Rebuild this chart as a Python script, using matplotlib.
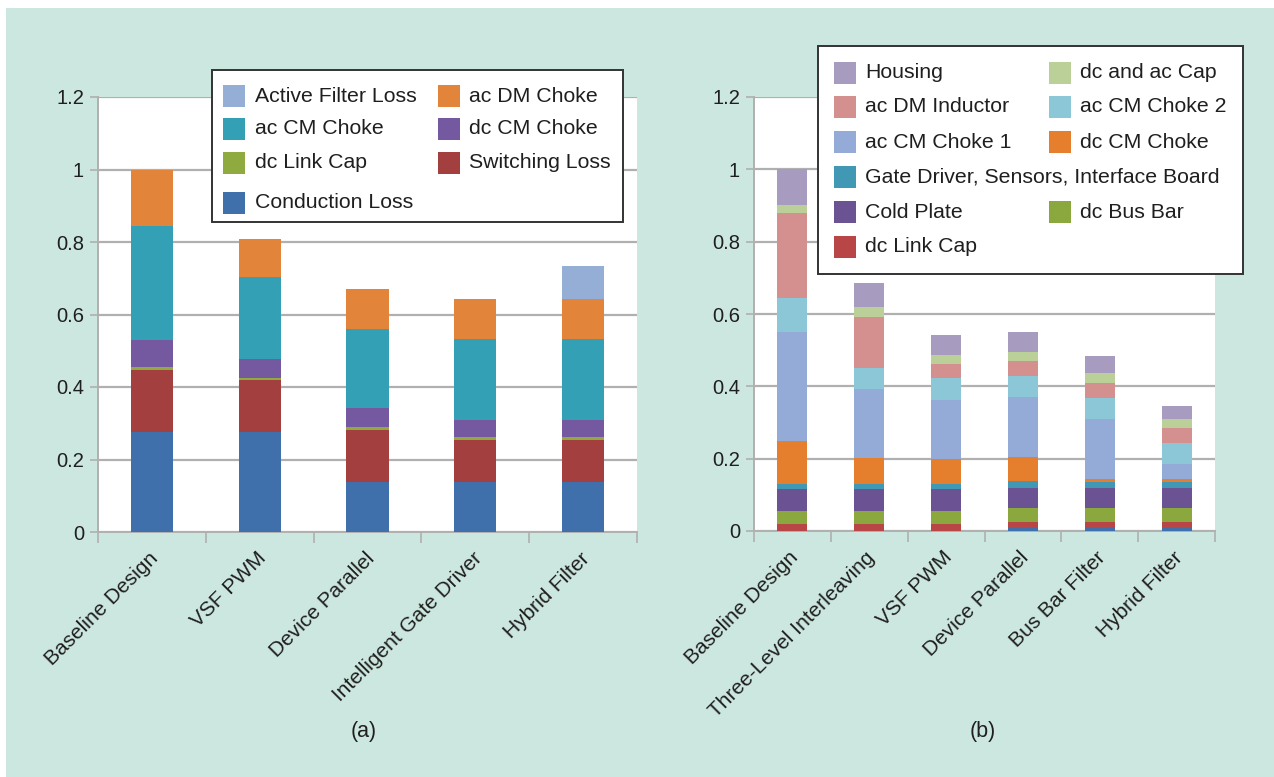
import matplotlib
import matplotlib.pyplot as plt
import numpy as np
from matplotlib.patches import Rectangle
from matplotlib.transforms import ScaledTranslation

matplotlib.use("Agg")

# --- Panel (a) data: normalized loss breakdown ---
cats_a = ["Baseline Design", "VSF PWM", "Device Parallel",
          "Intelligent Gate Driver", "Hybrid Filter"]
conduction_loss = [0.275, 0.275, 0.137, 0.137, 0.137]
switching_loss = [0.173, 0.143, 0.145, 0.117, 0.117]
dc_link_cap_a = [0.007, 0.008, 0.007, 0.007, 0.007]
dc_cm_choke_a = [0.074, 0.052, 0.054, 0.049, 0.049]
ac_cm_choke_a = [0.314, 0.225, 0.217, 0.222, 0.222]
ac_dm_choke_a = [0.157, 0.105, 0.110, 0.110, 0.110]
active_filter_loss = [0.0, 0.0, 0.0, 0.0, 0.092]

# --- Panel (b) data: normalized weight breakdown ---
cats_b = ["Baseline Design", "Three-Level Interleaving", "VSF PWM",
          "Device Parallel", "Bus Bar Filter", "Hybrid Filter"]
power_device_b = [0.0, 0.0, 0.0, 0.012, 0.012, 0.012]  # unlabeled bottom slice
dc_link_cap_b = [0.018, 0.018, 0.018, 0.014, 0.014, 0.014]
dc_bus_bar = [0.038, 0.038, 0.038, 0.038, 0.038, 0.038]
cold_plate = [0.059, 0.059, 0.059, 0.054, 0.054, 0.054]
gate_driver = [0.016, 0.016, 0.016, 0.020, 0.018, 0.018]
dc_cm_choke_b = [0.117, 0.072, 0.067, 0.067, 0.009, 0.009]
ac_cm_choke_1 = [0.303, 0.189, 0.165, 0.165, 0.166, 0.040]
ac_cm_choke_2 = [0.093, 0.058, 0.060, 0.058, 0.058, 0.059]
ac_dm_inductor = [0.234, 0.143, 0.039, 0.043, 0.040, 0.042]
dc_ac_cap = [0.023, 0.026, 0.026, 0.025, 0.028, 0.024]
housing = [0.099, 0.066, 0.055, 0.054, 0.046, 0.036]

y_ticks = [0, 0.2, 0.4, 0.6, 0.8, 1.0, 1.2]
y_tick_labels = ["0", "0.2", "0.4", "0.6", "0.8", "1", "1.2"]

BG = "#cce7df"
GRID = "#b0b0b0"
TEXT = "#1f1f1f"
FONT = "Liberation Sans"

W, H = 1274, 777

series_a = [
    ("Conduction Loss", conduction_loss, "#4070ab"),
    ("Switching Loss", switching_loss, "#a3403f"),
    ("dc Link Cap", dc_link_cap_a, "#8fab40"),
    ("dc CM Choke", dc_cm_choke_a, "#7459a0"),
    ("ac CM Choke", ac_cm_choke_a, "#34a0b6"),
    ("ac DM Choke", ac_dm_choke_a, "#e2843a"),
    ("Active Filter Loss", active_filter_loss, "#94aed5"),
]

series_b = [
    (None, power_device_b, "#4070ab"),
    ("dc Link Cap", dc_link_cap_b, "#b84647"),
    ("dc Bus Bar", dc_bus_bar, "#8ba83e"),
    ("Cold Plate", cold_plate, "#6b5393"),
    ("Gate Driver, Sensors, Interface Board", gate_driver, "#4098b4"),
    ("dc CM Choke", dc_cm_choke_b, "#e57e2d"),
    ("ac CM Choke 1", ac_cm_choke_1, "#93abd6"),
    ("ac CM Choke 2", ac_cm_choke_2, "#8cc7d8"),
    ("ac DM Inductor", ac_dm_inductor, "#d48f8f"),
    ("dc and ac Cap", dc_ac_cap, "#bbcf98"),
    ("Housing", housing, "#a89bc0"),
]

plt.rcParams["font.family"] = [FONT, "DejaVu Sans"]

fig = plt.figure(figsize=(W / 100, H / 100), dpi=100)
fig.patch.set_facecolor(BG)
# thin white margin along top and left edge of the original scan
fig.patches.append(Rectangle((0, 1 - 8 / H), 1, 8 / H, transform=fig.transFigure,
                             facecolor="white", edgecolor="none", zorder=-1))
fig.patches.append(Rectangle((0, 0), 6 / W, 1, transform=fig.transFigure,
                             facecolor="white", edgecolor="none", zorder=-1))


def px_axes(x0, x1, y_top, y_bottom):
    return fig.add_axes([x0 / W, 1 - y_bottom / H, (x1 - x0) / W, (y_bottom - y_top) / H])


def draw_stack(ax, cats, series, bar_w, label_dx):
    x = np.arange(len(cats))
    bottom = np.zeros(len(cats))
    for _, vals, color in series:
        vals = np.asarray(vals)
        ax.bar(x, vals, bar_w, bottom=bottom, color=color, edgecolor="none", zorder=3)
        bottom += vals
    ax.set_xlim(-0.5, len(cats) - 0.5)
    ax.set_ylim(0, 1.2)
    ax.set_yticks(y_ticks)
    ax.set_yticklabels(y_tick_labels)
    ax.yaxis.grid(True, color=GRID, linewidth=1.6, zorder=0)
    ax.set_axisbelow(True)
    for side in ("top", "right"):
        ax.spines[side].set_visible(False)
    for side in ("left", "bottom"):
        ax.spines[side].set_color(GRID)
        ax.spines[side].set_linewidth(1.4)
    ax.tick_params(axis="y", length=6, width=1.2, color=GRID, labelsize=14.5,
                   labelcolor=TEXT, pad=4)
    # category boundaries carry the tick marks, centres carry the labels
    ax.set_xticks(np.arange(len(cats) + 1) - 0.5)
    ax.set_xticklabels([])
    ax.tick_params(axis="x", which="major", length=8, width=1.2, color=GRID)
    ax.set_xticks(x, minor=True)
    ax.set_xticklabels(cats, minor=True, rotation=45, ha="right",
                       rotation_mode="anchor", fontsize=15, color=TEXT)
    ax.tick_params(axis="x", which="minor", length=0, pad=12)
    offset = ScaledTranslation(label_dx / 100, 0, fig.dpi_scale_trans)
    for lbl in ax.get_xticklabels(minor=True):
        lbl.set_transform(lbl.get_transform() + offset)


ax_a = px_axes(98, 637, 97, 532)
draw_stack(ax_a, cats_a, series_a, 0.39, -3)

ax_b = px_axes(754, 1215, 97, 531)
draw_stack(ax_b, cats_b, series_b, 0.39, -4)

# overlay in pixel coordinates for the legends and panel captions
ov = fig.add_axes([0, 0, 1, 1], zorder=10)
ov.set_xlim(0, W)
ov.set_ylim(H, 0)
ov.axis("off")
ov.patch.set_alpha(0)


def draw_legend(box, row_y, rows, col_x, entries):
    x0, y0, x1, y1 = box
    ov.add_patch(Rectangle((x0, y0), x1 - x0, y1 - y0, facecolor="white",
                           edgecolor="#333333", linewidth=1.4))
    colors = {lbl: c for lbl, _, c in entries}
    for r, row in enumerate(rows):
        for c, lbl in enumerate(row):
            if lbl is None:
                continue
            sx, tx = col_x[c]
            yc = row_y[r]
            ov.add_patch(Rectangle((sx, yc - 11), 22, 22, facecolor=colors[lbl],
                                   edgecolor="none"))
            ov.text(tx, yc, lbl, fontsize=15.3, color=TEXT, va="center", ha="left")


draw_legend((212, 70, 623, 222), [96, 129, 163, 203],
            [["Active Filter Loss", "ac DM Choke"],
             ["ac CM Choke", "dc CM Choke"],
             ["dc Link Cap", "Switching Loss"],
             ["Conduction Loss", None]],
            [(223, 255), (438, 469)], series_a)

draw_legend((818, 46, 1243, 274), [73, 107, 142, 177, 212, 247],
            [["Housing", "dc and ac Cap"],
             ["ac DM Inductor", "ac CM Choke 2"],
             ["ac CM Choke 1", "dc CM Choke"],
             ["Gate Driver, Sensors, Interface Board", None],
             ["Cold Plate", "dc Bus Bar"],
             ["dc Link Cap", None]],
            [(834, 865), (1049, 1080)], series_b)

ov.text(364, 731, "(a)", fontsize=15.5, color=TEXT, ha="center", va="center")
ov.text(983, 731, "(b)", fontsize=15.5, color=TEXT, ha="center", va="center")

fig.savefig("out.png", dpi=100, facecolor=fig.get_facecolor())
